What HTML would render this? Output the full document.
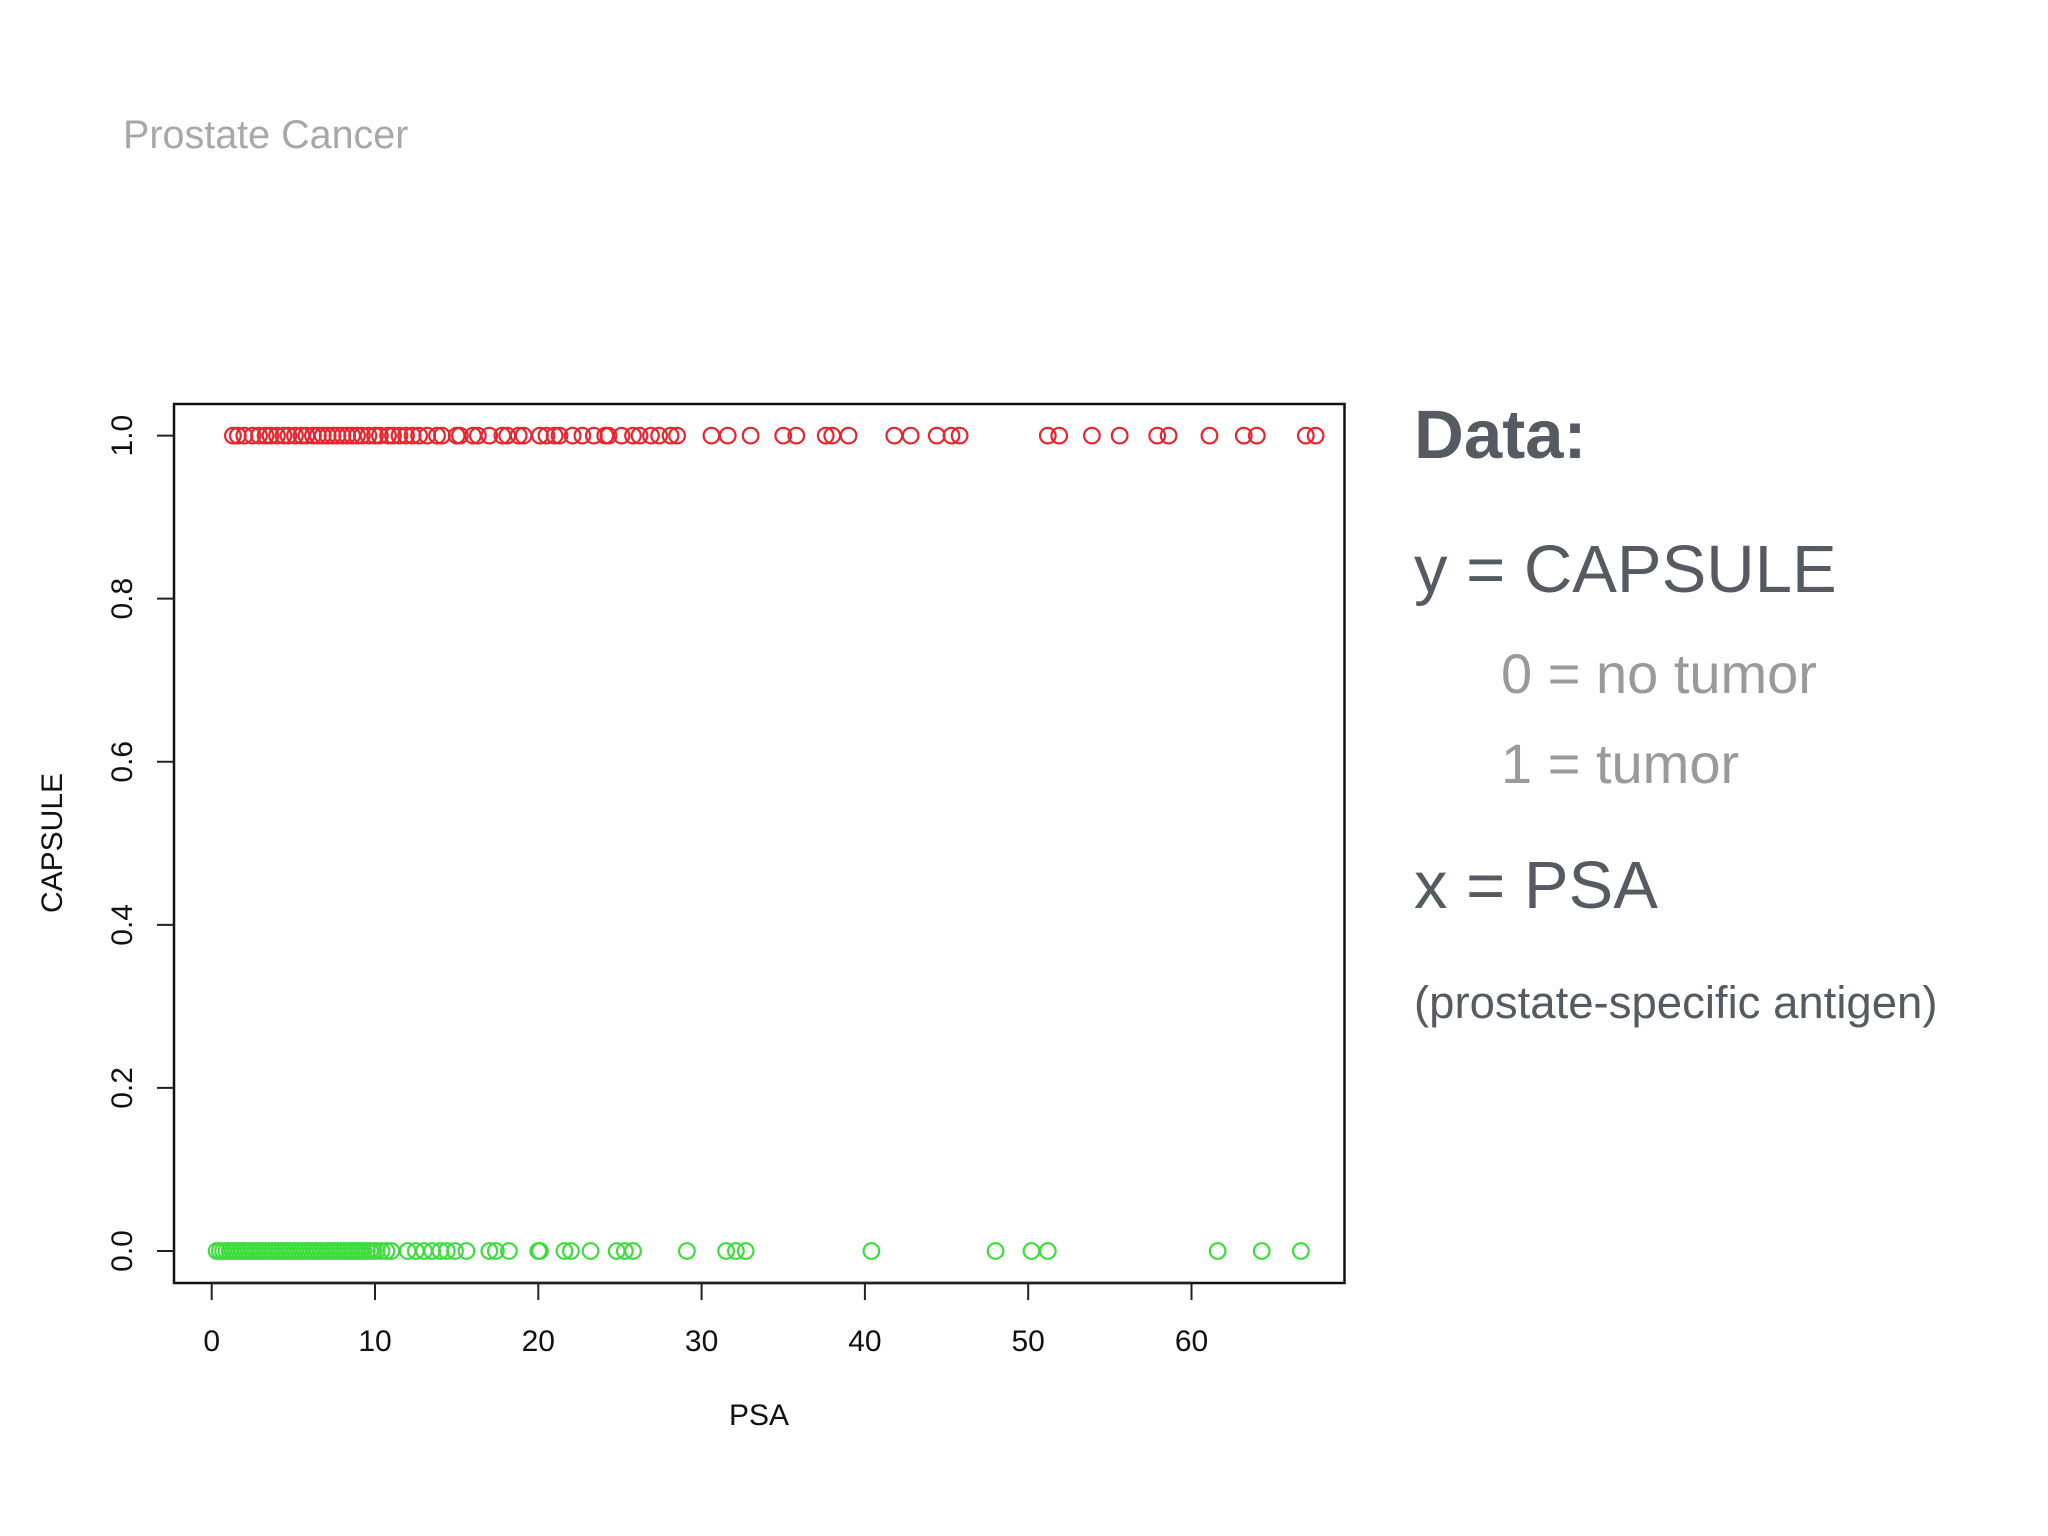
<!DOCTYPE html>
<html><head><meta charset="utf-8"><style>
body{margin:0;background:#fff;}
svg{display:block;font-family:"Liberation Sans",Arial,sans-serif;}
</style></head><body>
<svg width="2048" height="1536" viewBox="0 0 2048 1536">
<rect width="2048" height="1536" fill="#fff"/>
<text x="123" y="148" font-size="39.5" fill="#a8a8a8">Prostate Cancer</text>
<g id="plot"></g>
<text x="1414" y="458" font-size="69" font-weight="bold" fill="#565b61">Data:</text>
<text x="1414" y="592" font-size="67" fill="#565b61">y = CAPSULE</text>
<text x="1501" y="693" font-size="56" fill="#9a9a9a">0 = no tumor</text>
<text x="1501" y="783" font-size="56" fill="#9a9a9a">1 = tumor</text>
<text x="1414" y="908" font-size="67" fill="#565b61">x = PSA</text>
<text x="1414" y="1018" font-size="45.5" fill="#565b61">(prostate-specific antigen)</text>
</svg>
<script>
const redPSA=[1.3,1.6,2.0,2.5,2.9,3.3,3.6,4.0,4.4,4.7,5.1,5.5,5.8,6.2,6.5,6.8,7.1,7.4,7.7,8.0,8.3,8.6,8.9,9.2,9.6,10.0,10.3,10.8,11.1,11.5,11.9,12.3,12.7,13.2,13.8,14.1,15.0,15.2,16.0,16.3,17.0,17.8,18.1,18.8,19.1,20.1,20.5,21.0,21.3,22.1,22.7,23.4,24.1,24.3,25.1,25.8,26.2,26.9,27.4,28.1,28.5,30.6,31.6,33.0,35.0,35.8,37.6,38.0,39.0,41.8,42.8,44.4,45.3,45.8,51.2,51.9,53.9,55.6,57.9,58.6,61.1,63.2,64.0,67.0,67.6];
const greenPSA=[0.3,0.5,0.7,0.9,1.1,1.3,1.5,1.7,1.9,2.1,2.3,2.5,2.7,2.9,3.1,3.3,3.5,3.7,3.9,4.1,4.3,4.5,4.7,4.9,5.1,5.3,5.5,5.7,5.9,6.1,6.3,6.5,6.7,6.9,7.1,7.3,7.5,7.7,7.9,8.1,8.3,8.5,8.7,8.9,9.1,9.3,9.5,9.7,9.9,10.1,10.4,10.7,11.0,12.0,12.5,13.0,13.5,14.0,14.4,14.9,15.6,17.0,17.4,18.2,20.0,20.1,21.6,22.0,23.2,24.8,25.3,25.8,29.1,31.5,32.1,32.7,40.4,48.0,50.2,51.2,61.6,64.3,66.7];
const redY=1, greenY=0;
const xTicks=[0,10,20,30,40,50,60];
const yTicks=[0,0.2,0.4,0.6,0.8,1.0];
const yTickLabels=["0.0","0.2","0.4","0.6","0.8","1.0"];
const NS="http://www.w3.org/2000/svg";
const g=document.getElementById('plot');
const X=v=>211.7+v*16.33, Y=v=>1251-v*815.4;
function mk(t,a){const e=document.createElementNS(NS,t);for(const k in a)e.setAttribute(k,a[k]);g.appendChild(e);return e;}
let e=mk('rect',{x:174,y:404,width:1170.5,height:879,fill:'none',stroke:'#111','stroke-width':2.5});


xTicks.forEach(t=>{
 let l=mk('line',{x1:X(t),x2:X(t),y1:1283,y2:1300,stroke:'#222','stroke-width':2});
 
 
 let tx=mk('text',{x:X(t),y:1351,'font-size':30,'text-anchor':'middle',fill:'#111'});tx.textContent=t;
 
 
});
let ax=mk('line',{x1:X(0),x2:X(60),y1:1283,y2:1283,stroke:'#222','stroke-width':2.5});


yTicks.forEach((t,i)=>{
 let l=mk('line',{x1:157,x2:174,y1:Y(t),y2:Y(t),stroke:'#222','stroke-width':2});
 
 
 let tx=mk('text',{x:132,y:Y(t),'font-size':30,'text-anchor':'middle',fill:'#111',transform:`rotate(-90 132 ${Y(t)})`});tx.textContent=yTickLabels[i];
 
 
});
let xt=mk('text',{x:759,y:1425,'font-size':30,'text-anchor':'middle',fill:'#111'});xt.textContent='PSA';


let yt=mk('text',{x:62,y:843,'font-size':30,'text-anchor':'middle',fill:'#111',transform:'rotate(-90 62 843)'});yt.textContent='CAPSULE';


redPSA.forEach(v=>{
 let c=mk('circle',{cx:X(v),cy:Y(redY),r:7.8,fill:'none',stroke:'#e8242c','stroke-width':2.2});
 
 
});
greenPSA.forEach(v=>{
 let c=mk('circle',{cx:X(v),cy:Y(greenY),r:7.8,fill:'none',stroke:'#3ddc3d','stroke-width':2.2});
 
 
});
</script>
</body></html>
